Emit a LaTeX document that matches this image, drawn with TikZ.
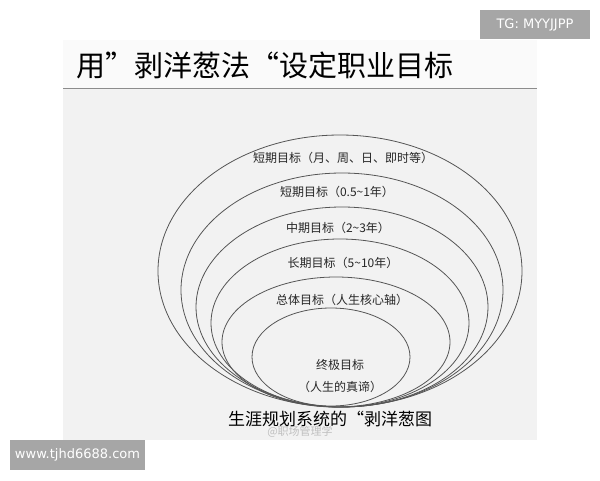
\documentclass[tikz,border=0pt]{standalone}
\usepackage{fontspec}
\newfontfamily\cjk{Noto Sans CJK SC}
\newfontfamily\wm{DejaVu Sans}
\definecolor{panel}{HTML}{F2F2F2}
\definecolor{bar}{HTML}{FAFAFA}
\definecolor{wmbox}{HTML}{A6A6A6}
\definecolor{ring}{HTML}{555555}
\tikzset{
  ringline/.style={draw=ring,line width=0.8pt},
  lbl/.style={font=\cjk\fontsize{12}{14}\selectfont,text=black!85,inner sep=0pt},
  wmark/.style={fill=wmbox,text=white,font=\wm\fontsize{13}{15}\selectfont,inner sep=0pt}
}
\begin{document}
\begin{tikzpicture}[x=1pt,y=-1pt]
\useasboundingbox (0,0) rectangle (600,480);
\fill[white] (0,0) rectangle (600,480);
% panel
\fill[panel] (63,40) rectangle (537,440);
\fill[bar] (63,40) rectangle (537,88);
\draw[black!45,line width=1.2pt] (63,88.5) -- (537,88.5);
\node[anchor=west,inner sep=0pt,font=\cjk\fontsize{29}{31}\selectfont] (title) at (76,65) {用”剥洋葱法“设定职业目标};
% rings
\draw[ringline] (340,271) ellipse [x radius=182,y radius=136];
\draw[ringline] (342,290) ellipse [x radius=161,y radius=117];
\draw[ringline] (342,307) ellipse [x radius=146,y radius=100];
\draw[ringline] (340,323) ellipse [x radius=129,y radius=84];
\draw[ringline] (336,342) ellipse [x radius=114,y radius=65];
\draw[ringline] (331,357) ellipse [x radius=79,y radius=49];
% labels
\node[lbl] (l1) at (343,158) {短期目标（月、周、日、即时等）};
\node[lbl] (l2) at (337,192) {短期目标（0.5\textasciitilde 1年）};
\node[lbl] (l3) at (338,228) {中期目标（2\textasciitilde 3年）};
\node[lbl] (l4) at (343,263) {长期目标（5\textasciitilde 10年）};
\node[lbl] (l5) at (342,300) {总体目标（人生核心轴）};
\node[lbl] (l6) at (340,365) {终极目标};
\node[lbl] (l7) at (340,387) {（人生的真谛）};
\node[inner sep=0pt,font=\cjk\fontsize{17}{19}\selectfont] (cap) at (330,419) {生涯规划系统的“剥洋葱图};
\node[inner sep=0pt,font=\cjk\fontsize{11}{13}\selectfont,text=black!25] (src) at (300,432) {@职场管理学};
% watermarks
\node[wmark,minimum width=110pt,minimum height=29pt] (tg) at (535,24.5) {TG: MYYJJPP};
\node[wmark,minimum width=135pt,minimum height=30pt] (www) at (77.5,455) {www.tjhd6688.com};
\end{tikzpicture}
\end{document}
